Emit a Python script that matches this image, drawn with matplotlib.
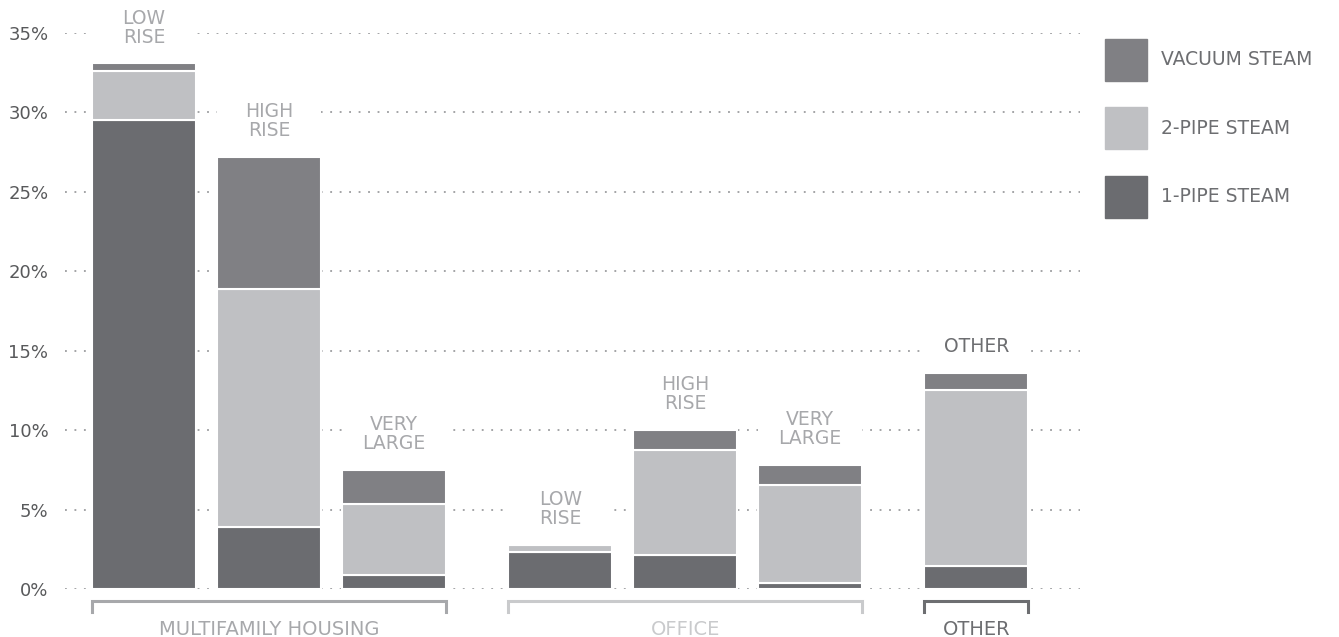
import numpy as np
import matplotlib
matplotlib.use("Agg")
import matplotlib.pyplot as plt
from matplotlib.patches import Patch
import matplotlib.transforms as mtransforms

plt.rcParams['font.family'] = ['DejaVu Sans']

# data (percent of buildings)
group_names = ["MULTIFAMILY HOUSING", "OFFICE", "OTHER"]
group_sizes = [3, 3, 1]
bar_labels = ["LOW\nRISE", "HIGH\nRISE", "VERY\nLARGE",
              "LOW\nRISE", "HIGH\nRISE", "VERY\nLARGE", "OTHER"]
one_pipe = [29.5, 3.9, 0.9, 2.3, 2.15, 0.4, 1.45]
two_pipe = [3.1, 15.0, 4.45, 0.5, 6.6, 6.15, 11.05]
vacuum = [0.5, 8.3, 2.15, 0.0, 1.25, 1.25, 1.1]
yticks = [0, 5, 10, 15, 20, 25, 30, 35]

c_one = "#6b6c70"
c_two = "#bfc0c3"
c_vac = "#808084"
group_colors = ["#a7a8ab", "#c9cacc", "#6d6e71"]
label_colors = ["#a7a8ab"] * 6 + ["#6d6e71"]

# x positions: bars 1 apart, extra gap between groups
gap = 0.33
xs = []
start = 0.0
for n in group_sizes:
    xs.extend(start + np.arange(n))
    start = xs[-1] + 1 + gap
xs = np.array(xs)
width = 0.83

fig = plt.figure(figsize=(13.39, 6.37), dpi=100)
ax = fig.add_axes([65 / 1339, 48 / 637, 1015 / 1339, 556 / 637])

one = np.array(one_pipe)
two = np.array(two_pipe)
vac = np.array(vacuum)
tops = one + two + vac

# white masks to break gridlines behind bars and labels
mask_h = np.array([3.4 if "\n" in s else 2.4 for s in bar_labels])
ax.bar(xs, tops + mask_h, width=width, color="white", zorder=1)

ax.bar(xs, one, width=width, color=c_one, edgecolor="white", linewidth=1.5, zorder=2)
ax.bar(xs, two, bottom=one, width=width, color=c_two, edgecolor="white", linewidth=1.5, zorder=2)
ax.bar(xs, vac, bottom=one + two, width=width, color=c_vac, edgecolor="white", linewidth=1.5, zorder=2)

for x, t, lab, col in zip(xs, tops, bar_labels, label_colors):
    ax.annotate(lab, (x, t), xytext=(0, 12), textcoords="offset points",
                ha="center", va="bottom", fontsize=13.5, color=col,
                linespacing=1.0, annotation_clip=False, zorder=3)

ax.set_xlim(-0.632, 7.49)
ax.set_ylim(0, 35)
ax.set_yticks(yticks)
ax.set_yticklabels([f"{v}%" for v in yticks], fontsize=13, color="#58595b")
ax.tick_params(axis="y", length=0, pad=12)
ax.tick_params(axis="x", length=0, labelbottom=False)
for s in ax.spines.values():
    s.set_visible(False)
ax.yaxis.grid(True, linestyle=(0, (1.2, 5)), color="#8a8b8e", linewidth=1.1)
ax.set_axisbelow(True)

# group brackets under the bars
trans = mtransforms.blended_transform_factory(ax.transData, ax.transAxes)
i = 0
for name, n, col in zip(group_names, group_sizes, group_colors):
    x0 = xs[i] - width / 2
    x1 = xs[i + n - 1] + width / 2
    ax.plot([x0, x0, x1, x1], [-0.041, -0.022, -0.022, -0.041], color=col,
            linewidth=2.2, transform=trans, clip_on=False, solid_joinstyle="miter")
    ax.text((x0 + x1) / 2, -0.073, name, transform=trans, ha="center", va="center",
            fontsize=14, color=col)
    i += n

handles = [Patch(color=c_vac, label="VACUUM STEAM"),
           Patch(color=c_two, label="2-PIPE STEAM"),
           Patch(color=c_one, label="1-PIPE STEAM")]
leg = fig.legend(handles=handles, loc="upper left", bbox_to_anchor=(1090 / 1339, 1 - 24 / 637),
                 frameon=False, fontsize=13.5, handlelength=2.24, handleheight=3.07,
                 labelspacing=1.4, handletextpad=0.75, borderpad=0.3)
for t in leg.get_texts():
    t.set_color("#6d6e71")

fig.savefig("out.png", dpi=100)
